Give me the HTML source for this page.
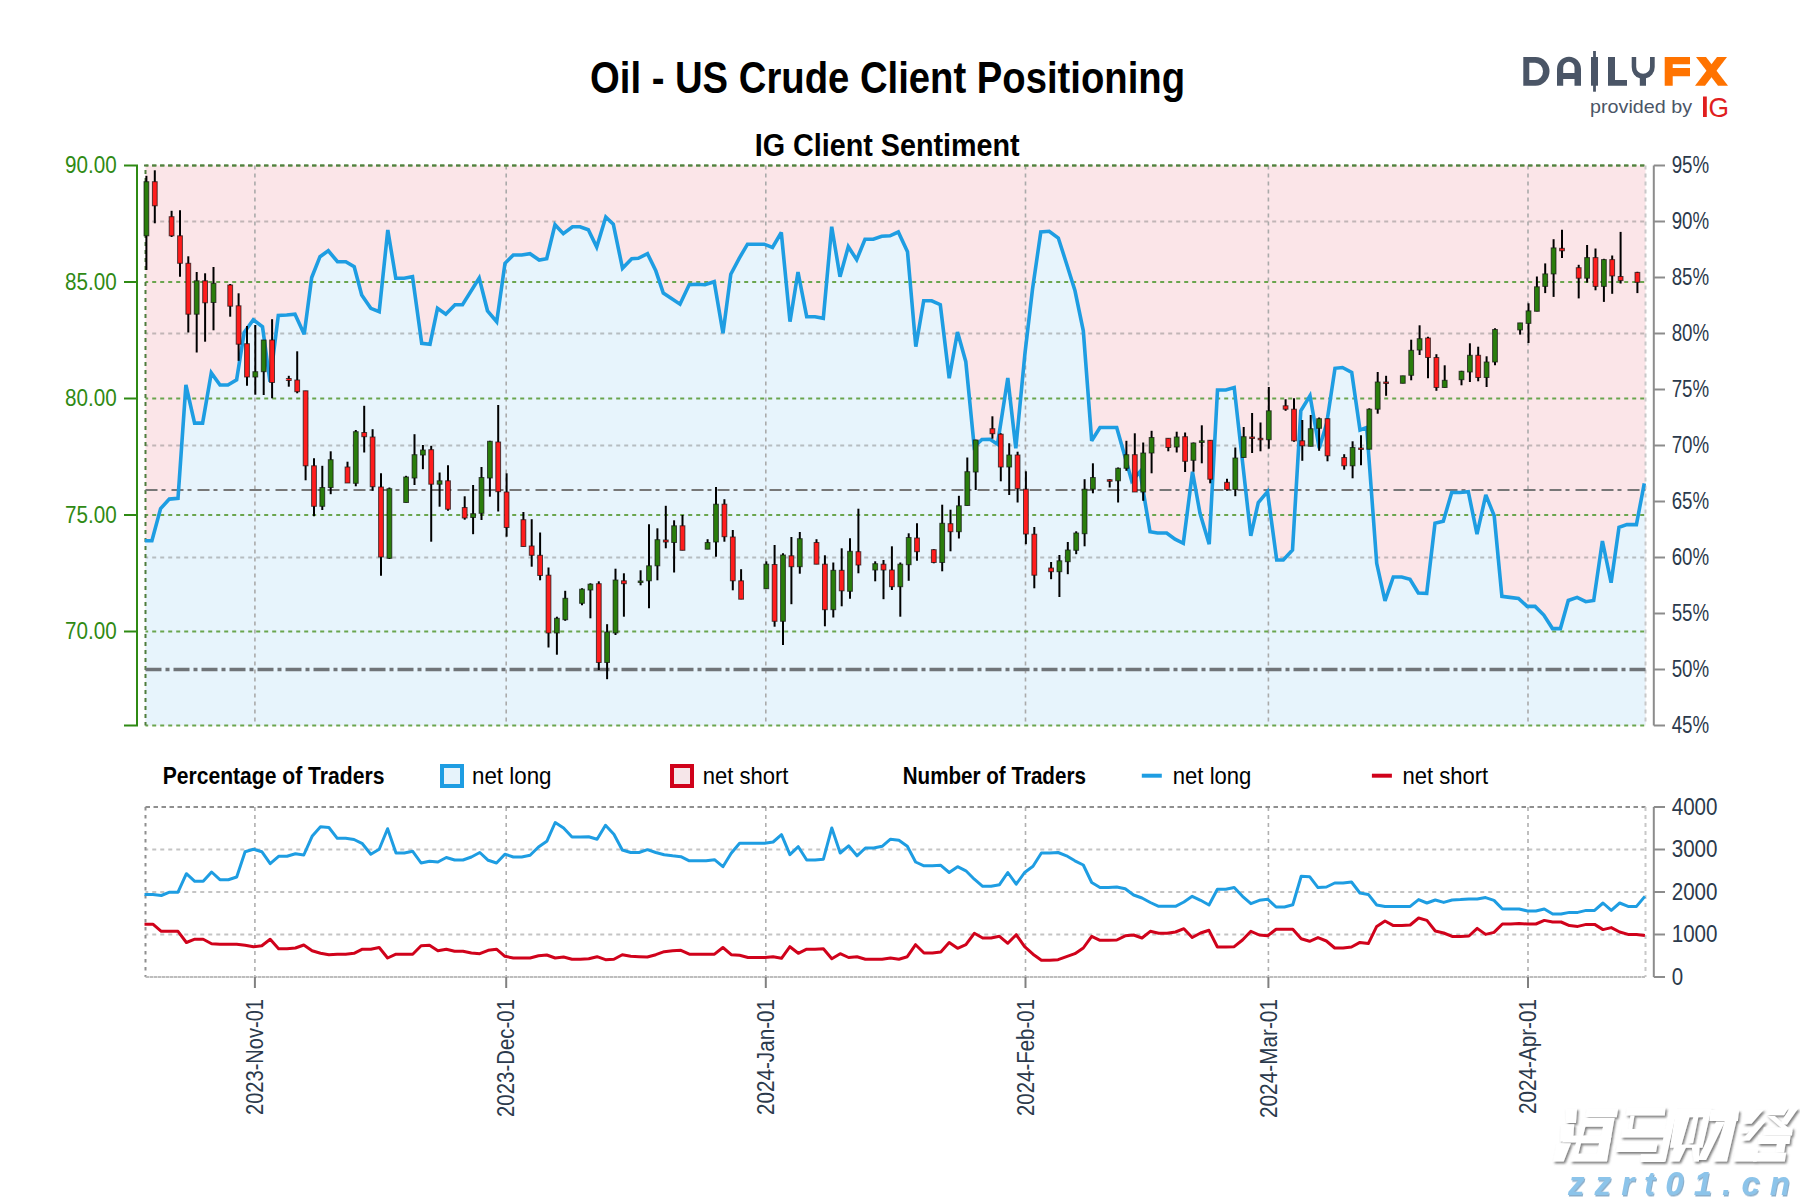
<!DOCTYPE html><html><head><meta charset="utf-8"><style>html,body{margin:0;padding:0;background:#fff;width:1800px;height:1200px;overflow:hidden}svg{display:block}text{font-family:"Liberation Sans",sans-serif}</style></head><body>
<svg width="1800" height="1200" viewBox="0 0 1800 1200">
<rect x="0" y="0" width="1800" height="1200" fill="#fff"/>
<text x="590" y="93.3" font-weight="bold" font-size="44" textLength="595" lengthAdjust="spacingAndGlyphs" fill="#000">Oil - US Crude Client Positioning</text>
<text x="754.7" y="155.8" font-weight="bold" font-size="31" textLength="265" lengthAdjust="spacingAndGlyphs" fill="#000">IG Client Sentiment</text>
<rect x="145.5" y="165.5" width="1500.0" height="560.0" fill="#fbe5e8"/>
<polygon points="145.5,540.8 144.8,540.8 151.9,540.8 160.6,508.6 169.3,499.1 178.0,498.3 185.9,385.0 194.6,423.1 202.6,423.1 211.3,372.9 220.0,385.0 227.9,385.0 236.6,379.8 244.2,332.5 253.3,319.7 262.5,326.7 270.0,381.7 278.3,315.5 286.7,315.0 295.0,314.2 304.2,334.2 311.7,277.5 320.0,256.7 328.3,250.8 337.5,261.7 345.8,261.7 354.2,266.7 361.7,295.0 370.8,308.3 379.2,311.7 387.8,230.0 395.8,278.3 404.2,278.3 412.5,276.7 421.7,343.3 430.0,344.2 437.5,308.3 445.8,314.2 455.0,304.7 462.5,304.7 479.2,278.0 487.5,310.8 496.7,321.7 505.0,263.3 513.3,255.0 521.7,255.0 530.0,253.7 539.2,260.0 546.7,258.7 555.0,224.7 563.3,233.7 572.5,226.7 580.0,226.7 588.3,229.7 596.7,247.0 605.8,217.0 613.3,224.2 622.5,268.3 631.7,258.7 638.3,258.3 647.5,253.7 655.8,270.8 663.3,293.0 680.0,304.2 689.2,284.7 696.7,284.2 705.0,284.7 714.2,281.7 723.0,333.3 730.8,274.2 739.2,258.3 747.5,244.2 755.8,244.2 764.2,244.2 772.5,247.5 781.3,232.5 790.0,321.7 798.0,272.0 806.7,316.7 815.0,316.7 823.3,318.3 831.7,226.7 840.0,276.7 848.3,246.7 856.7,259.7 865.0,239.2 873.3,239.2 881.7,236.3 890.0,235.8 898.3,232.0 907.5,251.7 915.8,346.7 923.7,300.8 931.7,300.8 940.3,304.7 949.2,378.3 957.5,332.0 965.8,361.7 974.2,446.7 982.0,439.5 990.0,439.2 997.5,444.2 1007.8,378.0 1015.8,448.3 1025.0,353.0 1032.5,289.2 1040.8,232.0 1049.2,231.3 1058.3,238.0 1066.7,264.2 1075.0,290.8 1083.3,330.8 1091.7,440.8 1100.0,427.5 1108.3,427.5 1116.7,427.5 1125.0,456.7 1131.7,480.8 1140.0,471.7 1150.0,531.7 1157.5,533.0 1166.7,533.0 1175.0,539.2 1183.3,543.3 1192.5,471.7 1200.0,513.3 1209.2,544.2 1217.5,390.0 1225.8,390.0 1234.2,387.5 1250.8,535.8 1258.3,502.5 1267.5,491.7 1276.7,560.0 1283.3,560.0 1292.5,550.0 1300.8,410.8 1310.0,395.8 1319.2,448.3 1326.7,423.3 1335.0,368.3 1342.5,367.5 1351.7,372.5 1360.0,430.0 1366.7,427.5 1376.7,563.3 1385.0,600.8 1393.3,577.0 1401.7,577.0 1410.0,579.2 1418.3,593.0 1426.7,593.3 1435.0,523.3 1443.3,521.3 1451.7,492.5 1460.0,492.5 1468.3,491.7 1477.0,534.2 1485.8,495.0 1494.2,515.8 1501.9,596.4 1509.8,597.4 1518.5,598.5 1527.2,606.4 1535.1,606.4 1543.8,615.1 1552.5,628.6 1560.4,628.6 1568.3,600.5 1577.1,597.4 1585.8,601.7 1593.7,600.5 1602.4,541.0 1611.1,582.7 1619.0,527.3 1626.9,524.6 1636.4,524.6 1644.3,483.4 1645.5,483.4 1645.5,725.5 145.5,725.5" fill="#e7f4fc"/>
<line x1="145.5" y1="221.5" x2="1645.5" y2="221.5" stroke="#7a7a7a" stroke-opacity="0.45" stroke-width="1.8" stroke-dasharray="4 4" stroke-dashoffset="1.3"/>
<line x1="145.5" y1="333.5" x2="1645.5" y2="333.5" stroke="#7a7a7a" stroke-opacity="0.45" stroke-width="1.8" stroke-dasharray="4 4" stroke-dashoffset="1.3"/>
<line x1="145.5" y1="445.5" x2="1645.5" y2="445.5" stroke="#7a7a7a" stroke-opacity="0.45" stroke-width="1.8" stroke-dasharray="4 4" stroke-dashoffset="1.3"/>
<line x1="145.5" y1="557.5" x2="1645.5" y2="557.5" stroke="#7a7a7a" stroke-opacity="0.45" stroke-width="1.8" stroke-dasharray="4 4" stroke-dashoffset="1.3"/>
<line x1="254.9" y1="165.5" x2="254.9" y2="725.5" stroke="#aaa" stroke-width="1.6" stroke-dasharray="4 4"/>
<line x1="506.2" y1="165.5" x2="506.2" y2="725.5" stroke="#aaa" stroke-width="1.6" stroke-dasharray="4 4"/>
<line x1="765.8" y1="165.5" x2="765.8" y2="725.5" stroke="#aaa" stroke-width="1.6" stroke-dasharray="4 4"/>
<line x1="1025.5" y1="165.5" x2="1025.5" y2="725.5" stroke="#aaa" stroke-width="1.6" stroke-dasharray="4 4"/>
<line x1="1268.4" y1="165.5" x2="1268.4" y2="725.5" stroke="#aaa" stroke-width="1.6" stroke-dasharray="4 4"/>
<line x1="1528.0" y1="165.5" x2="1528.0" y2="725.5" stroke="#aaa" stroke-width="1.6" stroke-dasharray="4 4"/>
<line x1="145.5" y1="165.5" x2="1645.5" y2="165.5" stroke="#6aa54e" stroke-width="2" stroke-dasharray="4 4" stroke-dashoffset="1.3"/>
<line x1="145.5" y1="282.0" x2="1645.5" y2="282.0" stroke="#6aa54e" stroke-width="2" stroke-dasharray="4 4" stroke-dashoffset="1.3"/>
<line x1="145.5" y1="398.5" x2="1645.5" y2="398.5" stroke="#6aa54e" stroke-width="2" stroke-dasharray="4 4" stroke-dashoffset="1.3"/>
<line x1="145.5" y1="515.0" x2="1645.5" y2="515.0" stroke="#6aa54e" stroke-width="2" stroke-dasharray="4 4" stroke-dashoffset="1.3"/>
<line x1="145.5" y1="631.5" x2="1645.5" y2="631.5" stroke="#6aa54e" stroke-width="2" stroke-dasharray="4 4" stroke-dashoffset="1.3"/>
<line x1="144" y1="165.5" x2="1645.5" y2="165.5" stroke="#527f40" stroke-width="2" stroke-dasharray="4.5 3.5"/>
<line x1="145.5" y1="725.5" x2="1645.5" y2="725.5" stroke="#6aa54e" stroke-width="2" stroke-dasharray="4 4" stroke-dashoffset="1.3"/>
<line x1="145.5" y1="165.5" x2="145.5" y2="725.5" stroke="#4f7d3c" stroke-width="2" stroke-dasharray="4 4" stroke-dashoffset="3.5"/>
<line x1="1645.5" y1="165.5" x2="1645.5" y2="725.5" stroke="#c8c8c8" stroke-width="2" stroke-dasharray="4 4"/>
<line x1="145.5" y1="490" x2="1645.5" y2="490" stroke="#777" stroke-width="2.2" stroke-dasharray="12 4 4 6"/>
<line x1="145.5" y1="669.5" x2="1645.5" y2="669.5" stroke="#707478" stroke-width="3.6" stroke-dasharray="16 4 4 4"/>
<polyline points="144.8,540.8 151.9,540.8 160.6,508.6 169.3,499.1 178.0,498.3 185.9,385.0 194.6,423.1 202.6,423.1 211.3,372.9 220.0,385.0 227.9,385.0 236.6,379.8 244.2,332.5 253.3,319.7 262.5,326.7 270.0,381.7 278.3,315.5 286.7,315.0 295.0,314.2 304.2,334.2 311.7,277.5 320.0,256.7 328.3,250.8 337.5,261.7 345.8,261.7 354.2,266.7 361.7,295.0 370.8,308.3 379.2,311.7 387.8,230.0 395.8,278.3 404.2,278.3 412.5,276.7 421.7,343.3 430.0,344.2 437.5,308.3 445.8,314.2 455.0,304.7 462.5,304.7 479.2,278.0 487.5,310.8 496.7,321.7 505.0,263.3 513.3,255.0 521.7,255.0 530.0,253.7 539.2,260.0 546.7,258.7 555.0,224.7 563.3,233.7 572.5,226.7 580.0,226.7 588.3,229.7 596.7,247.0 605.8,217.0 613.3,224.2 622.5,268.3 631.7,258.7 638.3,258.3 647.5,253.7 655.8,270.8 663.3,293.0 680.0,304.2 689.2,284.7 696.7,284.2 705.0,284.7 714.2,281.7 723.0,333.3 730.8,274.2 739.2,258.3 747.5,244.2 755.8,244.2 764.2,244.2 772.5,247.5 781.3,232.5 790.0,321.7 798.0,272.0 806.7,316.7 815.0,316.7 823.3,318.3 831.7,226.7 840.0,276.7 848.3,246.7 856.7,259.7 865.0,239.2 873.3,239.2 881.7,236.3 890.0,235.8 898.3,232.0 907.5,251.7 915.8,346.7 923.7,300.8 931.7,300.8 940.3,304.7 949.2,378.3 957.5,332.0 965.8,361.7 974.2,446.7 982.0,439.5 990.0,439.2 997.5,444.2 1007.8,378.0 1015.8,448.3 1025.0,353.0 1032.5,289.2 1040.8,232.0 1049.2,231.3 1058.3,238.0 1066.7,264.2 1075.0,290.8 1083.3,330.8 1091.7,440.8 1100.0,427.5 1108.3,427.5 1116.7,427.5 1125.0,456.7 1131.7,480.8 1140.0,471.7 1150.0,531.7 1157.5,533.0 1166.7,533.0 1175.0,539.2 1183.3,543.3 1192.5,471.7 1200.0,513.3 1209.2,544.2 1217.5,390.0 1225.8,390.0 1234.2,387.5 1250.8,535.8 1258.3,502.5 1267.5,491.7 1276.7,560.0 1283.3,560.0 1292.5,550.0 1300.8,410.8 1310.0,395.8 1319.2,448.3 1326.7,423.3 1335.0,368.3 1342.5,367.5 1351.7,372.5 1360.0,430.0 1366.7,427.5 1376.7,563.3 1385.0,600.8 1393.3,577.0 1401.7,577.0 1410.0,579.2 1418.3,593.0 1426.7,593.3 1435.0,523.3 1443.3,521.3 1451.7,492.5 1460.0,492.5 1468.3,491.7 1477.0,534.2 1485.8,495.0 1494.2,515.8 1501.9,596.4 1509.8,597.4 1518.5,598.5 1527.2,606.4 1535.1,606.4 1543.8,615.1 1552.5,628.6 1560.4,628.6 1568.3,600.5 1577.1,597.4 1585.8,601.7 1593.7,600.5 1602.4,541.0 1611.1,582.7 1619.0,527.3 1626.9,524.6 1636.4,524.6 1644.3,483.4" fill="none" stroke="#1e9de2" stroke-width="3.6" stroke-linejoin="miter" stroke-miterlimit="3"/>
<line x1="146.4" y1="175.8" x2="146.4" y2="270.0" stroke="#000" stroke-width="2"/>
<rect x="144.0" y="181.7" width="4.8" height="54.1" fill="#2a7d0c" stroke="#111" stroke-width="1" stroke-opacity="0.7"/>
<line x1="154.8" y1="170.3" x2="154.8" y2="223.3" stroke="#000" stroke-width="2"/>
<rect x="152.4" y="181.7" width="4.8" height="24.1" fill="#ff1d1d" stroke="#111" stroke-width="1" stroke-opacity="0.7"/>
<line x1="171.6" y1="210.8" x2="171.6" y2="237.0" stroke="#000" stroke-width="2"/>
<rect x="169.2" y="216.7" width="4.8" height="19.1" fill="#ff1d1d" stroke="#111" stroke-width="1" stroke-opacity="0.7"/>
<line x1="180.0" y1="210.3" x2="180.0" y2="276.7" stroke="#000" stroke-width="2"/>
<rect x="177.6" y="235.8" width="4.8" height="27.5" fill="#ff1d1d" stroke="#111" stroke-width="1" stroke-opacity="0.7"/>
<line x1="188.3" y1="256.3" x2="188.3" y2="332.5" stroke="#000" stroke-width="2"/>
<rect x="185.9" y="263.3" width="4.8" height="50.9" fill="#ff1d1d" stroke="#111" stroke-width="1" stroke-opacity="0.7"/>
<line x1="196.7" y1="272.0" x2="196.7" y2="352.5" stroke="#000" stroke-width="2"/>
<rect x="194.3" y="280.8" width="4.8" height="33.4" fill="#2a7d0c" stroke="#111" stroke-width="1" stroke-opacity="0.7"/>
<line x1="205.1" y1="273.3" x2="205.1" y2="341.7" stroke="#000" stroke-width="2"/>
<rect x="202.7" y="280.8" width="4.8" height="22.0" fill="#ff1d1d" stroke="#111" stroke-width="1" stroke-opacity="0.7"/>
<line x1="213.5" y1="267.0" x2="213.5" y2="330.3" stroke="#000" stroke-width="2"/>
<rect x="211.1" y="283.3" width="4.8" height="19.2" fill="#2a7d0c" stroke="#111" stroke-width="1" stroke-opacity="0.7"/>
<line x1="230.2" y1="284.0" x2="230.2" y2="316.7" stroke="#000" stroke-width="2"/>
<rect x="227.8" y="285.0" width="4.8" height="21.2" fill="#ff1d1d" stroke="#111" stroke-width="1" stroke-opacity="0.7"/>
<line x1="238.6" y1="293.3" x2="238.6" y2="360.8" stroke="#000" stroke-width="2"/>
<rect x="236.2" y="305.8" width="4.8" height="38.4" fill="#ff1d1d" stroke="#111" stroke-width="1" stroke-opacity="0.7"/>
<line x1="247.0" y1="326.0" x2="247.0" y2="385.8" stroke="#000" stroke-width="2"/>
<rect x="244.6" y="343.7" width="4.8" height="33.3" fill="#ff1d1d" stroke="#111" stroke-width="1" stroke-opacity="0.7"/>
<line x1="255.3" y1="325.0" x2="255.3" y2="394.7" stroke="#000" stroke-width="2"/>
<rect x="252.9" y="371.7" width="4.8" height="5.3" fill="#2a7d0c" stroke="#111" stroke-width="1" stroke-opacity="0.7"/>
<line x1="263.7" y1="340.0" x2="263.7" y2="395.0" stroke="#000" stroke-width="2"/>
<rect x="261.3" y="340.0" width="4.8" height="31.7" fill="#2a7d0c" stroke="#111" stroke-width="1" stroke-opacity="0.7"/>
<line x1="272.1" y1="319.2" x2="272.1" y2="398.3" stroke="#000" stroke-width="2"/>
<rect x="269.7" y="340.0" width="4.8" height="42.5" fill="#ff1d1d" stroke="#111" stroke-width="1" stroke-opacity="0.7"/>
<line x1="288.8" y1="375.8" x2="288.8" y2="386.7" stroke="#000" stroke-width="2"/>
<rect x="286.4" y="378.5" width="4.8" height="2.0" fill="#ff1d1d" stroke="#111" stroke-width="1" stroke-opacity="0.7"/>
<line x1="297.2" y1="351.3" x2="297.2" y2="393.3" stroke="#000" stroke-width="2"/>
<rect x="294.8" y="380.0" width="4.8" height="11.7" fill="#ff1d1d" stroke="#111" stroke-width="1" stroke-opacity="0.7"/>
<line x1="305.6" y1="390.8" x2="305.6" y2="480.3" stroke="#000" stroke-width="2"/>
<rect x="303.2" y="390.8" width="4.8" height="75.0" fill="#ff1d1d" stroke="#111" stroke-width="1" stroke-opacity="0.7"/>
<line x1="314.0" y1="458.3" x2="314.0" y2="516.3" stroke="#000" stroke-width="2"/>
<rect x="311.6" y="465.8" width="4.8" height="40.5" fill="#ff1d1d" stroke="#111" stroke-width="1" stroke-opacity="0.7"/>
<line x1="322.3" y1="465.8" x2="322.3" y2="510.0" stroke="#000" stroke-width="2"/>
<rect x="319.9" y="487.5" width="4.8" height="18.8" fill="#2a7d0c" stroke="#111" stroke-width="1" stroke-opacity="0.7"/>
<line x1="330.7" y1="451.3" x2="330.7" y2="494.2" stroke="#000" stroke-width="2"/>
<rect x="328.3" y="459.7" width="4.8" height="27.8" fill="#2a7d0c" stroke="#111" stroke-width="1" stroke-opacity="0.7"/>
<line x1="347.5" y1="461.7" x2="347.5" y2="483.0" stroke="#000" stroke-width="2"/>
<rect x="345.1" y="467.0" width="4.8" height="16.0" fill="#ff1d1d" stroke="#111" stroke-width="1" stroke-opacity="0.7"/>
<line x1="355.8" y1="430.0" x2="355.8" y2="486.3" stroke="#000" stroke-width="2"/>
<rect x="353.4" y="431.7" width="4.8" height="51.6" fill="#2a7d0c" stroke="#111" stroke-width="1" stroke-opacity="0.7"/>
<line x1="364.2" y1="405.8" x2="364.2" y2="452.5" stroke="#000" stroke-width="2"/>
<rect x="361.8" y="432.5" width="4.8" height="4.2" fill="#ff1d1d" stroke="#111" stroke-width="1" stroke-opacity="0.7"/>
<line x1="372.6" y1="429.2" x2="372.6" y2="490.8" stroke="#000" stroke-width="2"/>
<rect x="370.2" y="437.0" width="4.8" height="49.7" fill="#ff1d1d" stroke="#111" stroke-width="1" stroke-opacity="0.7"/>
<line x1="381.0" y1="473.3" x2="381.0" y2="575.8" stroke="#000" stroke-width="2"/>
<rect x="378.6" y="487.0" width="4.8" height="70.0" fill="#ff1d1d" stroke="#111" stroke-width="1" stroke-opacity="0.7"/>
<line x1="389.4" y1="487.5" x2="389.4" y2="559.0" stroke="#000" stroke-width="2"/>
<rect x="387.0" y="488.7" width="4.8" height="69.6" fill="#2a7d0c" stroke="#111" stroke-width="1" stroke-opacity="0.7"/>
<line x1="406.1" y1="475.8" x2="406.1" y2="502.5" stroke="#000" stroke-width="2"/>
<rect x="403.7" y="477.0" width="4.8" height="25.5" fill="#2a7d0c" stroke="#111" stroke-width="1" stroke-opacity="0.7"/>
<line x1="414.5" y1="434.2" x2="414.5" y2="485.0" stroke="#000" stroke-width="2"/>
<rect x="412.1" y="454.7" width="4.8" height="23.3" fill="#2a7d0c" stroke="#111" stroke-width="1" stroke-opacity="0.7"/>
<line x1="422.9" y1="445.0" x2="422.9" y2="469.2" stroke="#000" stroke-width="2"/>
<rect x="420.5" y="450.0" width="4.8" height="5.0" fill="#2a7d0c" stroke="#111" stroke-width="1" stroke-opacity="0.7"/>
<line x1="431.2" y1="445.8" x2="431.2" y2="541.7" stroke="#000" stroke-width="2"/>
<rect x="428.8" y="449.7" width="4.8" height="34.5" fill="#ff1d1d" stroke="#111" stroke-width="1" stroke-opacity="0.7"/>
<line x1="439.6" y1="472.5" x2="439.6" y2="506.7" stroke="#000" stroke-width="2"/>
<rect x="437.2" y="480.8" width="4.8" height="3.4" fill="#2a7d0c" stroke="#111" stroke-width="1" stroke-opacity="0.7"/>
<line x1="448.0" y1="465.3" x2="448.0" y2="510.8" stroke="#000" stroke-width="2"/>
<rect x="445.6" y="480.8" width="4.8" height="28.4" fill="#ff1d1d" stroke="#111" stroke-width="1" stroke-opacity="0.7"/>
<line x1="464.7" y1="496.3" x2="464.7" y2="519.7" stroke="#000" stroke-width="2"/>
<rect x="462.3" y="507.5" width="4.8" height="10.5" fill="#ff1d1d" stroke="#111" stroke-width="1" stroke-opacity="0.7"/>
<line x1="473.1" y1="485.0" x2="473.1" y2="534.2" stroke="#000" stroke-width="2"/>
<rect x="470.7" y="513.7" width="4.8" height="3.8" fill="#2a7d0c" stroke="#111" stroke-width="1" stroke-opacity="0.7"/>
<line x1="481.5" y1="467.0" x2="481.5" y2="520.0" stroke="#000" stroke-width="2"/>
<rect x="479.1" y="477.5" width="4.8" height="35.8" fill="#2a7d0c" stroke="#111" stroke-width="1" stroke-opacity="0.7"/>
<line x1="489.9" y1="440.8" x2="489.9" y2="496.7" stroke="#000" stroke-width="2"/>
<rect x="487.5" y="441.3" width="4.8" height="36.7" fill="#2a7d0c" stroke="#111" stroke-width="1" stroke-opacity="0.7"/>
<line x1="498.2" y1="405.0" x2="498.2" y2="511.5" stroke="#000" stroke-width="2"/>
<rect x="495.8" y="442.0" width="4.8" height="49.7" fill="#ff1d1d" stroke="#111" stroke-width="1" stroke-opacity="0.7"/>
<line x1="506.6" y1="473.3" x2="506.6" y2="536.7" stroke="#000" stroke-width="2"/>
<rect x="504.2" y="492.0" width="4.8" height="35.5" fill="#ff1d1d" stroke="#111" stroke-width="1" stroke-opacity="0.7"/>
<line x1="523.4" y1="512.0" x2="523.4" y2="546.5" stroke="#000" stroke-width="2"/>
<rect x="521.0" y="519.7" width="4.8" height="26.8" fill="#ff1d1d" stroke="#111" stroke-width="1" stroke-opacity="0.7"/>
<line x1="531.7" y1="519.2" x2="531.7" y2="566.7" stroke="#000" stroke-width="2"/>
<rect x="529.3" y="546.0" width="4.8" height="9.3" fill="#ff1d1d" stroke="#111" stroke-width="1" stroke-opacity="0.7"/>
<line x1="540.1" y1="532.5" x2="540.1" y2="580.3" stroke="#000" stroke-width="2"/>
<rect x="537.7" y="555.3" width="4.8" height="20.2" fill="#ff1d1d" stroke="#111" stroke-width="1" stroke-opacity="0.7"/>
<line x1="548.5" y1="567.5" x2="548.5" y2="647.5" stroke="#000" stroke-width="2"/>
<rect x="546.1" y="575.2" width="4.8" height="57.8" fill="#ff1d1d" stroke="#111" stroke-width="1" stroke-opacity="0.7"/>
<line x1="556.9" y1="616.7" x2="556.9" y2="654.7" stroke="#000" stroke-width="2"/>
<rect x="554.5" y="618.3" width="4.8" height="14.7" fill="#2a7d0c" stroke="#111" stroke-width="1" stroke-opacity="0.7"/>
<line x1="565.2" y1="590.8" x2="565.2" y2="620.8" stroke="#000" stroke-width="2"/>
<rect x="562.9" y="598.3" width="4.8" height="21.4" fill="#2a7d0c" stroke="#111" stroke-width="1" stroke-opacity="0.7"/>
<line x1="582.0" y1="588.3" x2="582.0" y2="605.3" stroke="#000" stroke-width="2"/>
<rect x="579.6" y="589.2" width="4.8" height="14.1" fill="#2a7d0c" stroke="#111" stroke-width="1" stroke-opacity="0.7"/>
<line x1="590.4" y1="583.3" x2="590.4" y2="618.3" stroke="#000" stroke-width="2"/>
<rect x="588.0" y="584.2" width="4.8" height="5.8" fill="#2a7d0c" stroke="#111" stroke-width="1" stroke-opacity="0.7"/>
<line x1="598.8" y1="581.3" x2="598.8" y2="670.0" stroke="#000" stroke-width="2"/>
<rect x="596.4" y="583.7" width="4.8" height="78.8" fill="#ff1d1d" stroke="#111" stroke-width="1" stroke-opacity="0.7"/>
<line x1="607.1" y1="624.2" x2="607.1" y2="679.2" stroke="#000" stroke-width="2"/>
<rect x="604.7" y="632.0" width="4.8" height="30.5" fill="#2a7d0c" stroke="#111" stroke-width="1" stroke-opacity="0.7"/>
<line x1="615.5" y1="568.7" x2="615.5" y2="635.0" stroke="#000" stroke-width="2"/>
<rect x="613.1" y="580.0" width="4.8" height="53.0" fill="#2a7d0c" stroke="#111" stroke-width="1" stroke-opacity="0.7"/>
<line x1="623.9" y1="573.3" x2="623.9" y2="616.7" stroke="#000" stroke-width="2"/>
<rect x="621.5" y="580.8" width="4.8" height="2.9" fill="#ff1d1d" stroke="#111" stroke-width="1" stroke-opacity="0.7"/>
<line x1="640.6" y1="570.3" x2="640.6" y2="585.3" stroke="#000" stroke-width="2"/>
<rect x="638.2" y="581.0" width="4.8" height="1.5" fill="#2a7d0c" stroke="#111" stroke-width="1" stroke-opacity="0.7"/>
<line x1="649.0" y1="524.2" x2="649.0" y2="608.3" stroke="#000" stroke-width="2"/>
<rect x="646.6" y="565.8" width="4.8" height="15.0" fill="#2a7d0c" stroke="#111" stroke-width="1" stroke-opacity="0.7"/>
<line x1="657.4" y1="528.3" x2="657.4" y2="580.3" stroke="#000" stroke-width="2"/>
<rect x="655.0" y="539.7" width="4.8" height="26.1" fill="#2a7d0c" stroke="#111" stroke-width="1" stroke-opacity="0.7"/>
<line x1="665.8" y1="505.8" x2="665.8" y2="548.3" stroke="#000" stroke-width="2"/>
<rect x="663.4" y="540.0" width="4.8" height="2.0" fill="#ff1d1d" stroke="#111" stroke-width="1" stroke-opacity="0.7"/>
<line x1="674.1" y1="520.3" x2="674.1" y2="572.5" stroke="#000" stroke-width="2"/>
<rect x="671.7" y="525.8" width="4.8" height="16.7" fill="#2a7d0c" stroke="#111" stroke-width="1" stroke-opacity="0.7"/>
<line x1="682.5" y1="515.0" x2="682.5" y2="550.3" stroke="#000" stroke-width="2"/>
<rect x="680.1" y="525.8" width="4.8" height="24.5" fill="#ff1d1d" stroke="#111" stroke-width="1" stroke-opacity="0.7"/>
<line x1="707.6" y1="539.2" x2="707.6" y2="549.2" stroke="#000" stroke-width="2"/>
<rect x="705.2" y="542.5" width="4.8" height="6.7" fill="#2a7d0c" stroke="#111" stroke-width="1" stroke-opacity="0.7"/>
<line x1="716.0" y1="487.0" x2="716.0" y2="556.7" stroke="#000" stroke-width="2"/>
<rect x="713.6" y="504.2" width="4.8" height="37.8" fill="#2a7d0c" stroke="#111" stroke-width="1" stroke-opacity="0.7"/>
<line x1="724.4" y1="499.2" x2="724.4" y2="541.7" stroke="#000" stroke-width="2"/>
<rect x="722.0" y="504.2" width="4.8" height="32.5" fill="#ff1d1d" stroke="#111" stroke-width="1" stroke-opacity="0.7"/>
<line x1="732.8" y1="530.0" x2="732.8" y2="590.3" stroke="#000" stroke-width="2"/>
<rect x="730.4" y="537.0" width="4.8" height="43.8" fill="#ff1d1d" stroke="#111" stroke-width="1" stroke-opacity="0.7"/>
<line x1="741.1" y1="569.2" x2="741.1" y2="599.2" stroke="#000" stroke-width="2"/>
<rect x="738.7" y="580.8" width="4.8" height="18.4" fill="#ff1d1d" stroke="#111" stroke-width="1" stroke-opacity="0.7"/>
<line x1="766.3" y1="561.3" x2="766.3" y2="588.7" stroke="#000" stroke-width="2"/>
<rect x="763.9" y="564.2" width="4.8" height="24.5" fill="#2a7d0c" stroke="#111" stroke-width="1" stroke-opacity="0.7"/>
<line x1="774.6" y1="545.0" x2="774.6" y2="626.7" stroke="#000" stroke-width="2"/>
<rect x="772.2" y="564.5" width="4.8" height="56.8" fill="#ff1d1d" stroke="#111" stroke-width="1" stroke-opacity="0.7"/>
<line x1="783.0" y1="553.3" x2="783.0" y2="645.0" stroke="#000" stroke-width="2"/>
<rect x="780.6" y="555.0" width="4.8" height="66.3" fill="#2a7d0c" stroke="#111" stroke-width="1" stroke-opacity="0.7"/>
<line x1="791.4" y1="537.0" x2="791.4" y2="604.2" stroke="#000" stroke-width="2"/>
<rect x="789.0" y="555.8" width="4.8" height="10.9" fill="#ff1d1d" stroke="#111" stroke-width="1" stroke-opacity="0.7"/>
<line x1="799.8" y1="532.0" x2="799.8" y2="573.7" stroke="#000" stroke-width="2"/>
<rect x="797.4" y="538.7" width="4.8" height="28.0" fill="#2a7d0c" stroke="#111" stroke-width="1" stroke-opacity="0.7"/>
<line x1="816.5" y1="539.2" x2="816.5" y2="564.2" stroke="#000" stroke-width="2"/>
<rect x="814.1" y="542.5" width="4.8" height="21.7" fill="#ff1d1d" stroke="#111" stroke-width="1" stroke-opacity="0.7"/>
<line x1="824.9" y1="555.3" x2="824.9" y2="626.3" stroke="#000" stroke-width="2"/>
<rect x="822.5" y="564.2" width="4.8" height="45.5" fill="#ff1d1d" stroke="#111" stroke-width="1" stroke-opacity="0.7"/>
<line x1="833.3" y1="562.5" x2="833.3" y2="617.5" stroke="#000" stroke-width="2"/>
<rect x="830.9" y="570.3" width="4.8" height="39.4" fill="#2a7d0c" stroke="#111" stroke-width="1" stroke-opacity="0.7"/>
<line x1="841.7" y1="548.3" x2="841.7" y2="606.3" stroke="#000" stroke-width="2"/>
<rect x="839.3" y="570.3" width="4.8" height="20.5" fill="#ff1d1d" stroke="#111" stroke-width="1" stroke-opacity="0.7"/>
<line x1="850.0" y1="538.3" x2="850.0" y2="598.7" stroke="#000" stroke-width="2"/>
<rect x="847.6" y="551.3" width="4.8" height="40.0" fill="#2a7d0c" stroke="#111" stroke-width="1" stroke-opacity="0.7"/>
<line x1="858.4" y1="508.7" x2="858.4" y2="573.3" stroke="#000" stroke-width="2"/>
<rect x="856.0" y="551.7" width="4.8" height="13.3" fill="#ff1d1d" stroke="#111" stroke-width="1" stroke-opacity="0.7"/>
<line x1="875.2" y1="561.3" x2="875.2" y2="581.3" stroke="#000" stroke-width="2"/>
<rect x="872.8" y="563.7" width="4.8" height="6.3" fill="#2a7d0c" stroke="#111" stroke-width="1" stroke-opacity="0.7"/>
<line x1="883.5" y1="560.0" x2="883.5" y2="599.2" stroke="#000" stroke-width="2"/>
<rect x="881.1" y="564.2" width="4.8" height="5.8" fill="#ff1d1d" stroke="#111" stroke-width="1" stroke-opacity="0.7"/>
<line x1="891.9" y1="546.3" x2="891.9" y2="590.0" stroke="#000" stroke-width="2"/>
<rect x="889.5" y="570.0" width="4.8" height="16.7" fill="#ff1d1d" stroke="#111" stroke-width="1" stroke-opacity="0.7"/>
<line x1="900.3" y1="562.5" x2="900.3" y2="616.7" stroke="#000" stroke-width="2"/>
<rect x="897.9" y="564.2" width="4.8" height="22.5" fill="#2a7d0c" stroke="#111" stroke-width="1" stroke-opacity="0.7"/>
<line x1="908.7" y1="533.3" x2="908.7" y2="580.8" stroke="#000" stroke-width="2"/>
<rect x="906.3" y="537.5" width="4.8" height="27.2" fill="#2a7d0c" stroke="#111" stroke-width="1" stroke-opacity="0.7"/>
<line x1="917.0" y1="523.3" x2="917.0" y2="560.8" stroke="#000" stroke-width="2"/>
<rect x="914.6" y="538.0" width="4.8" height="13.7" fill="#ff1d1d" stroke="#111" stroke-width="1" stroke-opacity="0.7"/>
<line x1="933.8" y1="549.2" x2="933.8" y2="563.3" stroke="#000" stroke-width="2"/>
<rect x="931.4" y="549.7" width="4.8" height="12.8" fill="#ff1d1d" stroke="#111" stroke-width="1" stroke-opacity="0.7"/>
<line x1="942.2" y1="504.7" x2="942.2" y2="571.3" stroke="#000" stroke-width="2"/>
<rect x="939.8" y="523.3" width="4.8" height="39.2" fill="#2a7d0c" stroke="#111" stroke-width="1" stroke-opacity="0.7"/>
<line x1="950.5" y1="509.7" x2="950.5" y2="551.3" stroke="#000" stroke-width="2"/>
<rect x="948.1" y="523.7" width="4.8" height="8.0" fill="#ff1d1d" stroke="#111" stroke-width="1" stroke-opacity="0.7"/>
<line x1="958.9" y1="495.8" x2="958.9" y2="538.5" stroke="#000" stroke-width="2"/>
<rect x="956.5" y="505.8" width="4.8" height="25.9" fill="#2a7d0c" stroke="#111" stroke-width="1" stroke-opacity="0.7"/>
<line x1="967.3" y1="457.5" x2="967.3" y2="505.5" stroke="#000" stroke-width="2"/>
<rect x="964.9" y="471.7" width="4.8" height="33.8" fill="#2a7d0c" stroke="#111" stroke-width="1" stroke-opacity="0.7"/>
<line x1="975.7" y1="439.7" x2="975.7" y2="490.0" stroke="#000" stroke-width="2"/>
<rect x="973.3" y="440.0" width="4.8" height="32.0" fill="#2a7d0c" stroke="#111" stroke-width="1" stroke-opacity="0.7"/>
<line x1="992.4" y1="416.3" x2="992.4" y2="438.7" stroke="#000" stroke-width="2"/>
<rect x="990.0" y="428.7" width="4.8" height="5.0" fill="#ff1d1d" stroke="#111" stroke-width="1" stroke-opacity="0.7"/>
<line x1="1000.8" y1="433.3" x2="1000.8" y2="481.3" stroke="#000" stroke-width="2"/>
<rect x="998.4" y="434.2" width="4.8" height="32.8" fill="#ff1d1d" stroke="#111" stroke-width="1" stroke-opacity="0.7"/>
<line x1="1009.2" y1="443.3" x2="1009.2" y2="495.0" stroke="#000" stroke-width="2"/>
<rect x="1006.8" y="455.0" width="4.8" height="12.0" fill="#2a7d0c" stroke="#111" stroke-width="1" stroke-opacity="0.7"/>
<line x1="1017.6" y1="451.7" x2="1017.6" y2="502.5" stroke="#000" stroke-width="2"/>
<rect x="1015.2" y="455.0" width="4.8" height="33.7" fill="#ff1d1d" stroke="#111" stroke-width="1" stroke-opacity="0.7"/>
<line x1="1025.9" y1="471.3" x2="1025.9" y2="544.2" stroke="#000" stroke-width="2"/>
<rect x="1023.5" y="489.2" width="4.8" height="44.8" fill="#ff1d1d" stroke="#111" stroke-width="1" stroke-opacity="0.7"/>
<line x1="1034.3" y1="527.0" x2="1034.3" y2="588.3" stroke="#000" stroke-width="2"/>
<rect x="1031.9" y="534.2" width="4.8" height="41.0" fill="#ff1d1d" stroke="#111" stroke-width="1" stroke-opacity="0.7"/>
<line x1="1051.1" y1="562.0" x2="1051.1" y2="579.2" stroke="#000" stroke-width="2"/>
<rect x="1048.7" y="568.0" width="4.8" height="3.7" fill="#ff1d1d" stroke="#111" stroke-width="1" stroke-opacity="0.7"/>
<line x1="1059.4" y1="555.0" x2="1059.4" y2="597.0" stroke="#000" stroke-width="2"/>
<rect x="1057.0" y="560.8" width="4.8" height="10.9" fill="#2a7d0c" stroke="#111" stroke-width="1" stroke-opacity="0.7"/>
<line x1="1067.8" y1="542.0" x2="1067.8" y2="574.2" stroke="#000" stroke-width="2"/>
<rect x="1065.4" y="550.0" width="4.8" height="11.7" fill="#2a7d0c" stroke="#111" stroke-width="1" stroke-opacity="0.7"/>
<line x1="1076.2" y1="531.3" x2="1076.2" y2="554.2" stroke="#000" stroke-width="2"/>
<rect x="1073.8" y="533.0" width="4.8" height="17.3" fill="#2a7d0c" stroke="#111" stroke-width="1" stroke-opacity="0.7"/>
<line x1="1084.6" y1="479.2" x2="1084.6" y2="546.3" stroke="#000" stroke-width="2"/>
<rect x="1082.2" y="489.2" width="4.8" height="44.5" fill="#2a7d0c" stroke="#111" stroke-width="1" stroke-opacity="0.7"/>
<line x1="1092.9" y1="463.3" x2="1092.9" y2="493.3" stroke="#000" stroke-width="2"/>
<rect x="1090.5" y="477.5" width="4.8" height="11.7" fill="#2a7d0c" stroke="#111" stroke-width="1" stroke-opacity="0.7"/>
<line x1="1109.7" y1="479.2" x2="1109.7" y2="487.5" stroke="#000" stroke-width="2"/>
<rect x="1107.3" y="479.7" width="4.8" height="1.6" fill="#ff1d1d" stroke="#111" stroke-width="1" stroke-opacity="0.7"/>
<line x1="1118.1" y1="467.5" x2="1118.1" y2="502.5" stroke="#000" stroke-width="2"/>
<rect x="1115.7" y="468.3" width="4.8" height="12.5" fill="#2a7d0c" stroke="#111" stroke-width="1" stroke-opacity="0.7"/>
<line x1="1126.4" y1="440.8" x2="1126.4" y2="470.8" stroke="#000" stroke-width="2"/>
<rect x="1124.0" y="454.7" width="4.8" height="13.6" fill="#2a7d0c" stroke="#111" stroke-width="1" stroke-opacity="0.7"/>
<line x1="1134.8" y1="433.3" x2="1134.8" y2="492.0" stroke="#000" stroke-width="2"/>
<rect x="1132.4" y="454.7" width="4.8" height="37.3" fill="#ff1d1d" stroke="#111" stroke-width="1" stroke-opacity="0.7"/>
<line x1="1143.2" y1="442.5" x2="1143.2" y2="500.8" stroke="#000" stroke-width="2"/>
<rect x="1140.8" y="453.0" width="4.8" height="39.0" fill="#2a7d0c" stroke="#111" stroke-width="1" stroke-opacity="0.7"/>
<line x1="1151.6" y1="430.8" x2="1151.6" y2="473.3" stroke="#000" stroke-width="2"/>
<rect x="1149.2" y="437.5" width="4.8" height="15.5" fill="#2a7d0c" stroke="#111" stroke-width="1" stroke-opacity="0.7"/>
<line x1="1168.3" y1="438.3" x2="1168.3" y2="451.3" stroke="#000" stroke-width="2"/>
<rect x="1165.9" y="438.3" width="4.8" height="9.2" fill="#ff1d1d" stroke="#111" stroke-width="1" stroke-opacity="0.7"/>
<line x1="1176.7" y1="431.7" x2="1176.7" y2="452.5" stroke="#000" stroke-width="2"/>
<rect x="1174.3" y="437.0" width="4.8" height="10.0" fill="#2a7d0c" stroke="#111" stroke-width="1" stroke-opacity="0.7"/>
<line x1="1185.1" y1="432.5" x2="1185.1" y2="472.0" stroke="#000" stroke-width="2"/>
<rect x="1182.7" y="436.7" width="4.8" height="24.6" fill="#ff1d1d" stroke="#111" stroke-width="1" stroke-opacity="0.7"/>
<line x1="1193.5" y1="442.5" x2="1193.5" y2="471.7" stroke="#000" stroke-width="2"/>
<rect x="1191.0" y="443.0" width="4.8" height="17.3" fill="#2a7d0c" stroke="#111" stroke-width="1" stroke-opacity="0.7"/>
<line x1="1201.8" y1="425.3" x2="1201.8" y2="463.3" stroke="#000" stroke-width="2"/>
<rect x="1199.4" y="440.8" width="4.8" height="1.7" fill="#2a7d0c" stroke="#111" stroke-width="1" stroke-opacity="0.7"/>
<line x1="1210.2" y1="440.0" x2="1210.2" y2="483.3" stroke="#000" stroke-width="2"/>
<rect x="1207.8" y="440.3" width="4.8" height="38.9" fill="#ff1d1d" stroke="#111" stroke-width="1" stroke-opacity="0.7"/>
<line x1="1227.0" y1="478.8" x2="1227.0" y2="490.8" stroke="#000" stroke-width="2"/>
<rect x="1224.6" y="482.3" width="4.8" height="7.2" fill="#ff1d1d" stroke="#111" stroke-width="1" stroke-opacity="0.7"/>
<line x1="1235.3" y1="447.5" x2="1235.3" y2="496.2" stroke="#000" stroke-width="2"/>
<rect x="1232.9" y="458.0" width="4.8" height="31.5" fill="#2a7d0c" stroke="#111" stroke-width="1" stroke-opacity="0.7"/>
<line x1="1243.7" y1="427.0" x2="1243.7" y2="457.5" stroke="#000" stroke-width="2"/>
<rect x="1241.3" y="436.7" width="4.8" height="20.8" fill="#2a7d0c" stroke="#111" stroke-width="1" stroke-opacity="0.7"/>
<line x1="1252.1" y1="413.0" x2="1252.1" y2="453.0" stroke="#000" stroke-width="2"/>
<rect x="1249.7" y="437.0" width="4.8" height="1.5" fill="#ff1d1d" stroke="#111" stroke-width="1" stroke-opacity="0.7"/>
<line x1="1260.5" y1="422.5" x2="1260.5" y2="451.3" stroke="#000" stroke-width="2"/>
<rect x="1258.1" y="438.3" width="4.8" height="1.5" fill="#ff1d1d" stroke="#111" stroke-width="1" stroke-opacity="0.7"/>
<line x1="1268.8" y1="387.0" x2="1268.8" y2="448.7" stroke="#000" stroke-width="2"/>
<rect x="1266.4" y="410.8" width="4.8" height="28.9" fill="#2a7d0c" stroke="#111" stroke-width="1" stroke-opacity="0.7"/>
<line x1="1285.6" y1="399.2" x2="1285.6" y2="410.8" stroke="#000" stroke-width="2"/>
<rect x="1283.2" y="405.8" width="4.8" height="3.4" fill="#ff1d1d" stroke="#111" stroke-width="1" stroke-opacity="0.7"/>
<line x1="1294.0" y1="398.3" x2="1294.0" y2="441.7" stroke="#000" stroke-width="2"/>
<rect x="1291.6" y="409.2" width="4.8" height="31.6" fill="#ff1d1d" stroke="#111" stroke-width="1" stroke-opacity="0.7"/>
<line x1="1302.3" y1="420.0" x2="1302.3" y2="460.8" stroke="#000" stroke-width="2"/>
<rect x="1299.9" y="440.8" width="4.8" height="5.0" fill="#ff1d1d" stroke="#111" stroke-width="1" stroke-opacity="0.7"/>
<line x1="1310.7" y1="415.0" x2="1310.7" y2="446.3" stroke="#000" stroke-width="2"/>
<rect x="1308.3" y="428.7" width="4.8" height="17.6" fill="#2a7d0c" stroke="#111" stroke-width="1" stroke-opacity="0.7"/>
<line x1="1319.1" y1="417.5" x2="1319.1" y2="450.8" stroke="#000" stroke-width="2"/>
<rect x="1316.7" y="418.7" width="4.8" height="9.6" fill="#2a7d0c" stroke="#111" stroke-width="1" stroke-opacity="0.7"/>
<line x1="1327.5" y1="418.7" x2="1327.5" y2="461.3" stroke="#000" stroke-width="2"/>
<rect x="1325.1" y="418.7" width="4.8" height="37.1" fill="#ff1d1d" stroke="#111" stroke-width="1" stroke-opacity="0.7"/>
<line x1="1344.2" y1="454.2" x2="1344.2" y2="469.7" stroke="#000" stroke-width="2"/>
<rect x="1341.8" y="457.5" width="4.8" height="8.3" fill="#ff1d1d" stroke="#111" stroke-width="1" stroke-opacity="0.7"/>
<line x1="1352.6" y1="441.3" x2="1352.6" y2="478.3" stroke="#000" stroke-width="2"/>
<rect x="1350.2" y="447.5" width="4.8" height="18.3" fill="#2a7d0c" stroke="#111" stroke-width="1" stroke-opacity="0.7"/>
<line x1="1361.0" y1="435.3" x2="1361.0" y2="465.3" stroke="#000" stroke-width="2"/>
<rect x="1358.6" y="448.0" width="4.8" height="1.5" fill="#ff1d1d" stroke="#111" stroke-width="1" stroke-opacity="0.7"/>
<line x1="1369.3" y1="408.3" x2="1369.3" y2="449.2" stroke="#000" stroke-width="2"/>
<rect x="1366.9" y="409.2" width="4.8" height="40.0" fill="#2a7d0c" stroke="#111" stroke-width="1" stroke-opacity="0.7"/>
<line x1="1377.7" y1="372.0" x2="1377.7" y2="413.7" stroke="#000" stroke-width="2"/>
<rect x="1375.3" y="382.0" width="4.8" height="27.2" fill="#2a7d0c" stroke="#111" stroke-width="1" stroke-opacity="0.7"/>
<line x1="1386.1" y1="375.8" x2="1386.1" y2="395.8" stroke="#000" stroke-width="2"/>
<rect x="1383.7" y="382.0" width="4.8" height="1.5" fill="#ff1d1d" stroke="#111" stroke-width="1" stroke-opacity="0.7"/>
<line x1="1402.8" y1="375.8" x2="1402.8" y2="383.3" stroke="#000" stroke-width="2"/>
<rect x="1400.4" y="375.8" width="4.8" height="7.5" fill="#2a7d0c" stroke="#111" stroke-width="1" stroke-opacity="0.7"/>
<line x1="1411.2" y1="339.7" x2="1411.2" y2="380.3" stroke="#000" stroke-width="2"/>
<rect x="1408.8" y="350.3" width="4.8" height="25.0" fill="#2a7d0c" stroke="#111" stroke-width="1" stroke-opacity="0.7"/>
<line x1="1419.6" y1="325.3" x2="1419.6" y2="355.0" stroke="#000" stroke-width="2"/>
<rect x="1417.2" y="338.7" width="4.8" height="11.3" fill="#2a7d0c" stroke="#111" stroke-width="1" stroke-opacity="0.7"/>
<line x1="1428.0" y1="336.7" x2="1428.0" y2="378.3" stroke="#000" stroke-width="2"/>
<rect x="1425.6" y="338.0" width="4.8" height="19.5" fill="#ff1d1d" stroke="#111" stroke-width="1" stroke-opacity="0.7"/>
<line x1="1436.4" y1="354.2" x2="1436.4" y2="390.8" stroke="#000" stroke-width="2"/>
<rect x="1434.0" y="357.5" width="4.8" height="30.0" fill="#ff1d1d" stroke="#111" stroke-width="1" stroke-opacity="0.7"/>
<line x1="1444.7" y1="365.3" x2="1444.7" y2="387.5" stroke="#000" stroke-width="2"/>
<rect x="1442.3" y="380.3" width="4.8" height="7.2" fill="#2a7d0c" stroke="#111" stroke-width="1" stroke-opacity="0.7"/>
<line x1="1461.5" y1="370.8" x2="1461.5" y2="385.3" stroke="#000" stroke-width="2"/>
<rect x="1459.1" y="371.3" width="4.8" height="8.4" fill="#2a7d0c" stroke="#111" stroke-width="1" stroke-opacity="0.7"/>
<line x1="1469.9" y1="343.3" x2="1469.9" y2="382.0" stroke="#000" stroke-width="2"/>
<rect x="1467.5" y="355.3" width="4.8" height="16.7" fill="#2a7d0c" stroke="#111" stroke-width="1" stroke-opacity="0.7"/>
<line x1="1478.2" y1="346.7" x2="1478.2" y2="381.3" stroke="#000" stroke-width="2"/>
<rect x="1475.8" y="355.3" width="4.8" height="22.2" fill="#ff1d1d" stroke="#111" stroke-width="1" stroke-opacity="0.7"/>
<line x1="1486.6" y1="356.3" x2="1486.6" y2="387.0" stroke="#000" stroke-width="2"/>
<rect x="1484.2" y="362.0" width="4.8" height="15.5" fill="#2a7d0c" stroke="#111" stroke-width="1" stroke-opacity="0.7"/>
<line x1="1495.0" y1="328.3" x2="1495.0" y2="365.3" stroke="#000" stroke-width="2"/>
<rect x="1492.6" y="329.5" width="4.8" height="32.5" fill="#2a7d0c" stroke="#111" stroke-width="1" stroke-opacity="0.7"/>
<line x1="1520.1" y1="322.9" x2="1520.1" y2="334.6" stroke="#000" stroke-width="2"/>
<rect x="1517.7" y="322.9" width="4.8" height="7.0" fill="#2a7d0c" stroke="#111" stroke-width="1" stroke-opacity="0.7"/>
<line x1="1528.5" y1="303.3" x2="1528.5" y2="343.0" stroke="#000" stroke-width="2"/>
<rect x="1526.1" y="310.9" width="4.8" height="12.5" fill="#2a7d0c" stroke="#111" stroke-width="1" stroke-opacity="0.7"/>
<line x1="1536.9" y1="276.5" x2="1536.9" y2="311.3" stroke="#000" stroke-width="2"/>
<rect x="1534.5" y="286.8" width="4.8" height="24.5" fill="#2a7d0c" stroke="#111" stroke-width="1" stroke-opacity="0.7"/>
<line x1="1545.2" y1="263.4" x2="1545.2" y2="293.1" stroke="#000" stroke-width="2"/>
<rect x="1542.8" y="273.9" width="4.8" height="12.5" fill="#2a7d0c" stroke="#111" stroke-width="1" stroke-opacity="0.7"/>
<line x1="1553.6" y1="239.2" x2="1553.6" y2="296.9" stroke="#000" stroke-width="2"/>
<rect x="1551.2" y="247.9" width="4.8" height="26.0" fill="#2a7d0c" stroke="#111" stroke-width="1" stroke-opacity="0.7"/>
<line x1="1562.0" y1="229.8" x2="1562.0" y2="258.1" stroke="#000" stroke-width="2"/>
<rect x="1559.6" y="248.3" width="4.8" height="2.5" fill="#ff1d1d" stroke="#111" stroke-width="1" stroke-opacity="0.7"/>
<line x1="1578.7" y1="264.8" x2="1578.7" y2="298.4" stroke="#000" stroke-width="2"/>
<rect x="1576.3" y="267.7" width="4.8" height="10.5" fill="#ff1d1d" stroke="#111" stroke-width="1" stroke-opacity="0.7"/>
<line x1="1587.1" y1="245.0" x2="1587.1" y2="282.6" stroke="#000" stroke-width="2"/>
<rect x="1584.7" y="257.6" width="4.8" height="20.6" fill="#2a7d0c" stroke="#111" stroke-width="1" stroke-opacity="0.7"/>
<line x1="1595.5" y1="248.5" x2="1595.5" y2="290.3" stroke="#000" stroke-width="2"/>
<rect x="1593.1" y="257.6" width="4.8" height="28.8" fill="#ff1d1d" stroke="#111" stroke-width="1" stroke-opacity="0.7"/>
<line x1="1603.9" y1="258.8" x2="1603.9" y2="301.9" stroke="#000" stroke-width="2"/>
<rect x="1601.5" y="259.6" width="4.8" height="26.8" fill="#2a7d0c" stroke="#111" stroke-width="1" stroke-opacity="0.7"/>
<line x1="1612.2" y1="255.5" x2="1612.2" y2="293.8" stroke="#000" stroke-width="2"/>
<rect x="1609.8" y="259.6" width="4.8" height="16.3" fill="#ff1d1d" stroke="#111" stroke-width="1" stroke-opacity="0.7"/>
<line x1="1620.6" y1="231.9" x2="1620.6" y2="283.5" stroke="#000" stroke-width="2"/>
<rect x="1618.2" y="276.5" width="4.8" height="4.1" fill="#ff1d1d" stroke="#111" stroke-width="1" stroke-opacity="0.7"/>
<line x1="1637.4" y1="271.8" x2="1637.4" y2="293.1" stroke="#000" stroke-width="2"/>
<rect x="1635.0" y="272.4" width="4.8" height="9.9" fill="#ff1d1d" stroke="#111" stroke-width="1" stroke-opacity="0.7"/>
<path d="M124,165.5 H137 V725.5 H124" fill="none" stroke="#2f8a14" stroke-width="2"/>
<line x1="124" y1="282.0" x2="137" y2="282.0" stroke="#2f8a14" stroke-width="2"/>
<line x1="124" y1="398.5" x2="137" y2="398.5" stroke="#2f8a14" stroke-width="2"/>
<line x1="124" y1="515.0" x2="137" y2="515.0" stroke="#2f8a14" stroke-width="2"/>
<line x1="124" y1="631.5" x2="137" y2="631.5" stroke="#2f8a14" stroke-width="2"/>
<text x="116.7" y="173.0" text-anchor="end" font-size="24.5" textLength="51.7" lengthAdjust="spacingAndGlyphs" fill="#2f8a14">90.00</text>
<text x="116.7" y="289.5" text-anchor="end" font-size="24.5" textLength="51.7" lengthAdjust="spacingAndGlyphs" fill="#2f8a14">85.00</text>
<text x="116.7" y="406.0" text-anchor="end" font-size="24.5" textLength="51.7" lengthAdjust="spacingAndGlyphs" fill="#2f8a14">80.00</text>
<text x="116.7" y="522.5" text-anchor="end" font-size="24.5" textLength="51.7" lengthAdjust="spacingAndGlyphs" fill="#2f8a14">75.00</text>
<text x="116.7" y="639.0" text-anchor="end" font-size="24.5" textLength="51.7" lengthAdjust="spacingAndGlyphs" fill="#2f8a14">70.00</text>
<line x1="1653.8" y1="165.5" x2="1653.8" y2="725.5" stroke="#8c8c8c" stroke-width="2"/>
<line x1="1653.8" y1="165.5" x2="1665" y2="165.5" stroke="#8c8c8c" stroke-width="2"/>
<text x="1671.7" y="173.0" font-size="24.5" textLength="37.5" lengthAdjust="spacingAndGlyphs" fill="#2b3a4c">95%</text>
<line x1="1653.8" y1="221.5" x2="1665" y2="221.5" stroke="#8c8c8c" stroke-width="2"/>
<text x="1671.7" y="229.0" font-size="24.5" textLength="37.5" lengthAdjust="spacingAndGlyphs" fill="#2b3a4c">90%</text>
<line x1="1653.8" y1="277.5" x2="1665" y2="277.5" stroke="#8c8c8c" stroke-width="2"/>
<text x="1671.7" y="285.0" font-size="24.5" textLength="37.5" lengthAdjust="spacingAndGlyphs" fill="#2b3a4c">85%</text>
<line x1="1653.8" y1="333.5" x2="1665" y2="333.5" stroke="#8c8c8c" stroke-width="2"/>
<text x="1671.7" y="341.0" font-size="24.5" textLength="37.5" lengthAdjust="spacingAndGlyphs" fill="#2b3a4c">80%</text>
<line x1="1653.8" y1="389.5" x2="1665" y2="389.5" stroke="#8c8c8c" stroke-width="2"/>
<text x="1671.7" y="397.0" font-size="24.5" textLength="37.5" lengthAdjust="spacingAndGlyphs" fill="#2b3a4c">75%</text>
<line x1="1653.8" y1="445.5" x2="1665" y2="445.5" stroke="#8c8c8c" stroke-width="2"/>
<text x="1671.7" y="453.0" font-size="24.5" textLength="37.5" lengthAdjust="spacingAndGlyphs" fill="#2b3a4c">70%</text>
<line x1="1653.8" y1="501.5" x2="1665" y2="501.5" stroke="#8c8c8c" stroke-width="2"/>
<text x="1671.7" y="509.0" font-size="24.5" textLength="37.5" lengthAdjust="spacingAndGlyphs" fill="#2b3a4c">65%</text>
<line x1="1653.8" y1="557.5" x2="1665" y2="557.5" stroke="#8c8c8c" stroke-width="2"/>
<text x="1671.7" y="565.0" font-size="24.5" textLength="37.5" lengthAdjust="spacingAndGlyphs" fill="#2b3a4c">60%</text>
<line x1="1653.8" y1="613.5" x2="1665" y2="613.5" stroke="#8c8c8c" stroke-width="2"/>
<text x="1671.7" y="621.0" font-size="24.5" textLength="37.5" lengthAdjust="spacingAndGlyphs" fill="#2b3a4c">55%</text>
<line x1="1653.8" y1="669.5" x2="1665" y2="669.5" stroke="#8c8c8c" stroke-width="2"/>
<text x="1671.7" y="677.0" font-size="24.5" textLength="37.5" lengthAdjust="spacingAndGlyphs" fill="#2b3a4c">50%</text>
<line x1="1653.8" y1="725.5" x2="1665" y2="725.5" stroke="#8c8c8c" stroke-width="2"/>
<text x="1671.7" y="733.0" font-size="24.5" textLength="37.5" lengthAdjust="spacingAndGlyphs" fill="#2b3a4c">45%</text>
<text x="162.7" y="784" font-weight="bold" font-size="23" textLength="221.7" lengthAdjust="spacingAndGlyphs" fill="#000">Percentage of Traders</text>
<rect x="442" y="766" width="20" height="20" fill="#e6f3fb" stroke="#1e9de2" stroke-width="4"/>
<text x="472" y="784" font-size="24" textLength="79.5" lengthAdjust="spacingAndGlyphs" fill="#000">net long</text>
<rect x="672" y="766" width="20" height="20" fill="#f6e6e9" stroke="#d0021b" stroke-width="4"/>
<text x="702.8" y="784" font-size="24" textLength="85.6" lengthAdjust="spacingAndGlyphs" fill="#000">net short</text>
<text x="902.7" y="784" font-weight="bold" font-size="23" textLength="183.2" lengthAdjust="spacingAndGlyphs" fill="#000">Number of Traders</text>
<line x1="1141.8" y1="775.7" x2="1161.8" y2="775.7" stroke="#1e9de2" stroke-width="4"/>
<text x="1172.8" y="784" font-size="24" textLength="78.6" lengthAdjust="spacingAndGlyphs" fill="#000">net long</text>
<line x1="1371.9" y1="775.7" x2="1391.9" y2="775.7" stroke="#d0021b" stroke-width="4"/>
<text x="1402.5" y="784" font-size="24" textLength="85.7" lengthAdjust="spacingAndGlyphs" fill="#000">net short</text>
<line x1="145.5" y1="849.5" x2="1645.5" y2="849.5" stroke="#c4c4c4" stroke-width="2" stroke-dasharray="4 4" stroke-dashoffset="1.25"/>
<line x1="145.5" y1="892.0" x2="1645.5" y2="892.0" stroke="#c4c4c4" stroke-width="2" stroke-dasharray="4 4" stroke-dashoffset="1.25"/>
<line x1="145.5" y1="934.5" x2="1645.5" y2="934.5" stroke="#c4c4c4" stroke-width="2" stroke-dasharray="4 4" stroke-dashoffset="1.25"/>
<line x1="254.9" y1="807.0" x2="254.9" y2="977.0" stroke="#b0b0b0" stroke-width="1.6" stroke-dasharray="4 4"/>
<line x1="506.2" y1="807.0" x2="506.2" y2="977.0" stroke="#b0b0b0" stroke-width="1.6" stroke-dasharray="4 4"/>
<line x1="765.8" y1="807.0" x2="765.8" y2="977.0" stroke="#b0b0b0" stroke-width="1.6" stroke-dasharray="4 4"/>
<line x1="1025.5" y1="807.0" x2="1025.5" y2="977.0" stroke="#b0b0b0" stroke-width="1.6" stroke-dasharray="4 4"/>
<line x1="1268.4" y1="807.0" x2="1268.4" y2="977.0" stroke="#b0b0b0" stroke-width="1.6" stroke-dasharray="4 4"/>
<line x1="1528.0" y1="807.0" x2="1528.0" y2="977.0" stroke="#b0b0b0" stroke-width="1.6" stroke-dasharray="4 4"/>
<line x1="145.5" y1="807.0" x2="1645.5" y2="807.0" stroke="#8f8f8f" stroke-width="2" stroke-dasharray="4.5 3.5"/>
<line x1="145.5" y1="807.0" x2="145.5" y2="977.0" stroke="#8f8f8f" stroke-width="2" stroke-dasharray="3.5 4.5"/>
<line x1="1645.5" y1="807.0" x2="1645.5" y2="977.0" stroke="#c8c8c8" stroke-width="2" stroke-dasharray="4 4"/>
<line x1="145.5" y1="977.0" x2="1645.5" y2="977.0" stroke="#bdbdbd" stroke-width="2" stroke-dasharray="3.5 0.5"/>
<polyline points="144.5,894.5 152.9,894.5 161.3,895.5 169.6,892.2 178.0,892.2 186.4,873.7 194.8,881.3 203.2,881.3 211.6,872.0 219.9,879.7 228.3,879.7 236.7,877.0 245.1,851.7 253.5,849.2 261.8,851.7 270.2,863.7 278.6,856.3 287.0,856.3 295.4,853.8 303.8,855.0 312.1,836.3 320.5,826.7 328.9,827.5 337.3,838.3 345.7,838.3 354.0,839.5 362.4,843.7 370.8,854.2 379.2,849.2 387.6,828.7 396.0,853.0 404.3,853.0 412.7,851.3 421.1,863.0 429.5,861.3 437.9,862.0 446.3,857.5 454.6,860.0 463.0,860.0 471.4,857.0 479.8,852.5 488.2,860.3 496.5,863.0 504.9,854.2 513.3,857.0 521.7,857.0 530.1,855.3 538.5,847.0 546.8,841.3 555.2,822.5 563.6,828.0 572.0,837.0 580.4,837.0 588.7,836.7 597.1,839.2 605.5,825.3 613.9,834.2 622.3,850.0 630.7,852.5 639.0,852.5 647.4,849.7 655.8,852.5 664.2,854.7 672.6,855.8 680.9,856.7 689.3,860.8 697.7,860.8 706.1,860.8 714.5,859.7 722.9,866.7 731.2,853.3 739.6,843.3 748.0,843.3 756.4,843.3 764.8,843.3 773.1,842.0 781.5,834.7 789.9,854.7 798.3,846.7 806.7,860.0 815.1,860.0 823.4,859.2 831.8,828.0 840.2,853.0 848.6,845.8 857.0,855.8 865.4,848.0 873.7,848.0 882.1,846.3 890.5,839.2 898.9,840.3 907.3,846.3 915.6,862.0 924.0,865.8 932.4,865.8 940.8,865.3 949.2,872.5 957.6,866.7 965.9,870.8 974.3,879.2 982.7,886.3 991.1,886.3 999.5,884.7 1007.8,872.5 1016.2,884.2 1024.6,872.5 1033.0,866.3 1041.4,853.0 1049.8,853.0 1058.1,852.5 1066.5,855.8 1074.9,860.8 1083.3,865.0 1091.7,882.5 1100.0,887.5 1108.4,887.5 1116.8,887.0 1125.2,888.7 1133.6,895.0 1142.0,898.0 1150.3,902.5 1158.7,906.3 1167.1,906.3 1175.5,906.3 1183.9,902.0 1192.2,896.3 1200.6,900.3 1209.0,905.0 1217.4,889.2 1225.8,889.2 1234.2,887.5 1242.5,896.3 1250.9,903.7 1259.3,900.3 1267.7,899.2 1276.1,907.0 1284.5,907.0 1292.8,904.7 1301.2,876.3 1309.6,876.7 1318.0,887.6 1326.4,887.0 1334.7,883.0 1343.1,883.0 1351.5,882.0 1359.9,893.0 1368.3,894.4 1376.7,905.0 1385.0,906.4 1393.4,906.4 1401.8,906.4 1410.2,906.4 1418.6,899.6 1426.9,903.0 1435.3,900.0 1443.7,902.4 1452.1,900.0 1460.5,899.6 1468.9,899.0 1477.2,899.0 1485.6,897.6 1494.0,900.4 1502.4,909.0 1510.8,909.0 1519.1,909.0 1527.5,911.0 1535.9,911.0 1544.3,909.0 1552.7,914.0 1561.1,914.0 1569.4,912.4 1577.8,912.4 1586.2,910.4 1594.6,910.4 1603.0,903.0 1611.3,910.4 1619.7,903.0 1628.1,906.4 1636.5,906.4 1644.9,896.4" fill="none" stroke="#1e9de2" stroke-width="3" stroke-linejoin="round"/>
<polyline points="144.5,924.2 152.9,924.2 161.3,931.3 169.6,931.3 178.0,931.3 186.4,942.5 194.8,939.2 203.2,939.2 211.6,943.7 219.9,944.2 228.3,944.2 236.7,944.2 245.1,945.3 253.5,946.7 261.8,945.8 270.2,939.2 278.6,948.7 287.0,948.7 295.4,948.0 303.8,945.0 312.1,950.8 320.5,953.3 328.9,954.7 337.3,954.2 345.7,954.2 354.0,953.3 362.4,949.2 370.8,949.2 379.2,947.5 387.6,958.0 396.0,954.2 404.3,954.2 412.7,954.2 421.1,945.8 429.5,945.3 437.9,950.8 446.3,949.2 454.6,951.3 463.0,951.3 471.4,953.0 479.8,953.7 488.2,950.3 496.5,949.2 504.9,956.3 513.3,958.0 521.7,958.0 530.1,958.0 538.5,955.8 546.8,955.0 555.2,958.0 563.6,957.0 572.0,959.2 580.4,959.2 588.7,958.7 597.1,956.7 605.5,959.7 613.9,959.2 622.3,954.7 630.7,956.3 639.0,956.7 647.4,957.0 655.8,954.7 664.2,951.7 672.6,950.8 680.9,950.3 689.3,954.2 697.7,954.2 706.1,954.2 714.5,954.2 722.9,947.5 731.2,954.7 739.6,955.3 748.0,957.5 756.4,957.5 764.8,957.5 773.1,956.7 781.5,958.3 789.9,946.7 798.3,953.3 806.7,949.2 815.1,949.2 823.4,948.7 831.8,958.7 840.2,953.7 848.6,957.5 857.0,956.7 865.4,959.2 873.7,959.2 882.1,959.2 890.5,958.0 898.9,959.2 907.3,956.7 915.6,944.7 924.0,953.0 932.4,953.0 940.8,952.0 949.2,942.5 957.6,948.3 965.9,944.7 974.3,933.3 982.7,938.0 991.1,938.0 999.5,936.3 1007.8,943.3 1016.2,934.7 1024.6,946.7 1033.0,954.2 1041.4,960.3 1049.8,960.3 1058.1,959.7 1066.5,956.7 1074.9,953.7 1083.3,948.0 1091.7,936.3 1100.0,940.3 1108.4,940.3 1116.8,940.0 1125.2,935.8 1133.6,935.0 1142.0,938.0 1150.3,931.3 1158.7,933.3 1167.1,933.3 1175.5,932.0 1183.9,928.7 1192.2,937.5 1200.6,933.0 1209.0,930.3 1217.4,947.0 1225.8,947.0 1234.2,946.7 1242.5,940.0 1250.9,931.3 1259.3,935.0 1267.7,935.8 1276.1,929.2 1284.5,929.2 1292.8,929.2 1301.2,938.7 1309.6,941.3 1318.0,937.6 1326.4,941.0 1334.7,948.0 1343.1,948.0 1351.5,947.0 1359.9,942.4 1368.3,943.6 1376.7,926.4 1385.0,921.0 1393.4,925.6 1401.8,925.6 1410.2,925.0 1418.6,918.0 1426.9,920.4 1435.3,931.0 1443.7,933.0 1452.1,936.4 1460.5,936.4 1468.9,936.0 1477.2,928.4 1485.6,934.4 1494.0,932.4 1502.4,924.0 1510.8,924.0 1519.1,923.6 1527.5,924.0 1535.9,924.0 1544.3,920.4 1552.7,922.0 1561.1,922.0 1569.4,925.6 1577.8,926.4 1586.2,924.4 1594.6,924.4 1603.0,929.6 1611.3,927.6 1619.7,932.0 1628.1,934.4 1636.5,934.4 1644.9,935.6" fill="none" stroke="#d0021b" stroke-width="3" stroke-linejoin="round"/>
<line x1="1653.8" y1="807.0" x2="1653.8" y2="977.0" stroke="#8c8c8c" stroke-width="2"/>
<line x1="1653.8" y1="807.0" x2="1665" y2="807.0" stroke="#8c8c8c" stroke-width="2"/>
<text x="1671.7" y="814.5" font-size="24.5" textLength="45.8" lengthAdjust="spacingAndGlyphs" fill="#2b3a4c">4000</text>
<line x1="1653.8" y1="849.5" x2="1665" y2="849.5" stroke="#8c8c8c" stroke-width="2"/>
<text x="1671.7" y="857.0" font-size="24.5" textLength="45.8" lengthAdjust="spacingAndGlyphs" fill="#2b3a4c">3000</text>
<line x1="1653.8" y1="892.0" x2="1665" y2="892.0" stroke="#8c8c8c" stroke-width="2"/>
<text x="1671.7" y="899.5" font-size="24.5" textLength="45.8" lengthAdjust="spacingAndGlyphs" fill="#2b3a4c">2000</text>
<line x1="1653.8" y1="934.5" x2="1665" y2="934.5" stroke="#8c8c8c" stroke-width="2"/>
<text x="1671.7" y="942.0" font-size="24.5" textLength="45.8" lengthAdjust="spacingAndGlyphs" fill="#2b3a4c">1000</text>
<line x1="1653.8" y1="977.0" x2="1665" y2="977.0" stroke="#8c8c8c" stroke-width="2"/>
<text x="1671.7" y="984.5" font-size="24.5" textLength="11.4" lengthAdjust="spacingAndGlyphs" fill="#2b3a4c">0</text>
<line x1="254.9" y1="977.0" x2="254.9" y2="988" stroke="#808080" stroke-width="2"/>
<text transform="translate(263.1,999) rotate(-90)" text-anchor="end" font-size="23" textLength="116" lengthAdjust="spacingAndGlyphs" fill="#2b3a4c">2023-Nov-01</text>
<line x1="506.2" y1="977.0" x2="506.2" y2="988" stroke="#808080" stroke-width="2"/>
<text transform="translate(514.4,999) rotate(-90)" text-anchor="end" font-size="23" textLength="118" lengthAdjust="spacingAndGlyphs" fill="#2b3a4c">2023-Dec-01</text>
<line x1="765.8" y1="977.0" x2="765.8" y2="988" stroke="#808080" stroke-width="2"/>
<text transform="translate(774.0,999) rotate(-90)" text-anchor="end" font-size="23" textLength="116" lengthAdjust="spacingAndGlyphs" fill="#2b3a4c">2024-Jan-01</text>
<line x1="1025.5" y1="977.0" x2="1025.5" y2="988" stroke="#808080" stroke-width="2"/>
<text transform="translate(1033.7,999) rotate(-90)" text-anchor="end" font-size="23" textLength="117" lengthAdjust="spacingAndGlyphs" fill="#2b3a4c">2024-Feb-01</text>
<line x1="1268.4" y1="977.0" x2="1268.4" y2="988" stroke="#808080" stroke-width="2"/>
<text transform="translate(1276.6,999) rotate(-90)" text-anchor="end" font-size="23" textLength="119" lengthAdjust="spacingAndGlyphs" fill="#2b3a4c">2024-Mar-01</text>
<line x1="1528.0" y1="977.0" x2="1528.0" y2="988" stroke="#808080" stroke-width="2"/>
<text transform="translate(1536.2,999) rotate(-90)" text-anchor="end" font-size="23" textLength="115" lengthAdjust="spacingAndGlyphs" fill="#2b3a4c">2024-Apr-01</text>
<g fill="#4a5566">
<path fill-rule="evenodd" d="M1523.3,57 H1535.5 A14,14.35 0 0 1 1535.5,85.7 H1523.3 Z M1529.3,62.7 V80 H1535 A8,8.65 0 0 0 1535,62.7 Z"/>
<path fill-rule="evenodd" d="M1557,85.7 V69 A12,12.3 0 0 1 1581,69 V85.7 H1574.5 V79 H1563.2 V85.7 Z M1563.2,73 H1574.5 V67.5 A5.65,5.8 0 0 0 1563.2,67.5 Z"/>
<rect x="1591" y="57" width="7" height="28.7"/><rect x="1593.1" y="51" width="2.8" height="40.7"/>
<path d="M1608,57 H1615 V80 H1627 V85.7 H1608 Z"/>
<path d="M1631.7,57 H1636.2 V67 A6.9,6.7 0 0 0 1650,67 V57 H1654.7 V67 A9.5,11.3 0 0 1 1646,78.2 V85.7 H1639.8 V78.2 A9.5,11.3 0 0 1 1631.7,67 Z"/>
</g>
<g fill="#ff7300"><path d="M1664.7,57 H1690 V64.3 H1672.7 V68 H1690 V76.3 H1672.7 V85.7 H1664.7 Z"/>
<path d="M1696,57 H1706 L1728,85.7 H1718 Z"/><path d="M1717,57 H1727 L1705,85.7 H1695 Z"/></g>
<text x="1590" y="112.7" font-size="19" textLength="102" lengthAdjust="spacingAndGlyphs" fill="#4a5566">provided by</text>
<rect x="1703" y="96.5" width="3.8" height="20.5" fill="#e01e1e"/>
<text x="1708.5" y="117" font-size="28.5" textLength="20.5" lengthAdjust="spacingAndGlyphs" fill="#e01e1e">G</text>
<defs><filter id="sh" x="-5%" y="-10%" width="115%" height="130%"><feDropShadow dx="1.6" dy="2" stdDeviation="0.9" flood-color="#555" flood-opacity="0.75"/></filter></defs>
<g filter="url(#sh)" fill="#fff">
<path fill-rule="evenodd" d="M1583.9,1118.1 L1614.6,1118.1 L1607.0,1161.4 L1570.2,1161.4 Z M1585.4,1126.7 L1603.1,1126.7 L1600.9,1135.7 L1583.2,1135.7 Z M1581.0,1143.3 L1599.1,1143.3 L1596.9,1153.8 L1578.5,1153.8 Z"/>
<polygon points="1565.5,1108.3 1577.1,1108.3 1576.0,1123.1 1566.2,1123.1"/>
<polygon points="1586.8,1108.3 1618.2,1108.3 1616.8,1117.3 1585.4,1117.3"/>
<polygon points="1560.8,1124.2 1574.2,1124.2 1573.1,1141.2 1560.1,1141.2"/>
<polygon points="1563.7,1135.7 1611.4,1135.7 1610.3,1142.6 1562.3,1142.6"/>
<polygon points="1556.5,1143.3 1570.9,1143.3 1563.7,1161.4 1552.9,1161.4"/>
<polygon points="1626.9,1107.2 1665.5,1107.2 1664.8,1115.5 1625.8,1115.5"/>
<polygon points="1630.5,1115.5 1634.5,1115.5 1632.3,1128.9 1628.3,1128.9"/>
<polygon points="1622.2,1128.9 1672.0,1128.9 1670.6,1137.5 1620.8,1137.5"/>
<polygon points="1617.1,1143.3 1657.6,1143.3 1656.1,1152.0 1615.7,1152.0"/>
<polygon points="1669.9,1107.9 1677.4,1107.9 1665.5,1161.4 1658.3,1161.4"/>
<polygon points="1641.0,1154.2 1662.6,1154.2 1664.8,1162.1 1640.3,1162.1"/>
<path fill-rule="evenodd" d="M1676.1,1108.7 L1711.5,1108.7 L1702.5,1147.7 L1670.0,1147.7 Z M1689.5,1117.3 L1703.2,1117.3 L1696.7,1144.8 L1681.6,1144.8 Z"/>
<polygon points="1693.8,1114.4 1698.9,1114.4 1693.1,1143.3 1688.1,1143.3"/>
<polygon points="1674.3,1146.2 1686.6,1146.2 1679.4,1161.4 1670.0,1161.4"/>
<polygon points="1691.7,1146.2 1699.6,1146.2 1698.9,1161.4 1693.8,1161.4"/>
<polygon points="1710.4,1110.1 1739.0,1110.1 1737.9,1120.9 1709.4,1120.9"/>
<polygon points="1727.8,1110.1 1739.0,1110.1 1727.0,1161.4 1713.3,1161.4"/>
<polygon points="1716.2,1121.7 1724.9,1121.7 1706.1,1159.9 1697.4,1159.9"/>
<polygon points="1755.2,1109.4 1763.9,1109.4 1751.6,1123.8 1742.9,1123.8"/>
<polygon points="1758.8,1120.9 1766.0,1120.9 1749.4,1140.4 1741.5,1140.4"/>
<polygon points="1741.5,1131.0 1748.0,1131.0 1747.3,1133.2 1740.8,1133.2"/>
<polygon points="1735.0,1149.8 1758.1,1149.8 1756.6,1161.4 1733.5,1161.4"/>
<polygon points="1768.2,1107.9 1788.4,1107.9 1784.1,1115.2 1766.8,1115.2"/>
<polygon points="1789.9,1107.9 1798.5,1107.9 1787.0,1124.5 1779.7,1124.5"/>
<polygon points="1767.5,1115.9 1774.7,1115.9 1792.7,1131.8 1785.5,1131.8"/>
<polygon points="1763.9,1127.4 1792.7,1127.4 1792.0,1135.4 1763.1,1135.4"/>
<polygon points="1758.8,1135.4 1790.6,1135.4 1789.5,1144.0 1757.7,1144.0"/>
<polygon points="1776.9,1144.0 1785.5,1144.0 1784.1,1152.7 1775.4,1152.7"/>
<polygon points="1754.5,1152.7 1786.2,1152.7 1784.8,1161.4 1753.0,1161.4"/>
</g>
<defs><filter id="sh2"><feDropShadow dx="1" dy="1.5" stdDeviation="0.6" flood-color="#3a78a8" flood-opacity="0.6"/></filter></defs>
<text x="1568" y="1194.5" font-size="33" font-weight="bold" font-style="italic" textLength="222" lengthAdjust="spacing" fill="#8cc4ea" filter="url(#sh2)">zzrt01.cn</text>
</svg></body></html>
